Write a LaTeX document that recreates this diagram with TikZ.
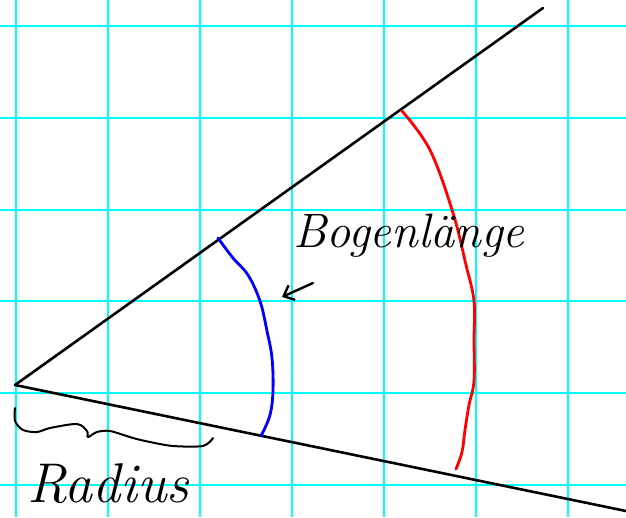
\documentclass[tikz,border=0pt]{standalone}
\usepackage{xcolor}
\usepackage{tikz}
\usetikzlibrary{arrows.meta}
\definecolor{gridcyan}{HTML}{00FFFF}
\definecolor{ink}{HTML}{000000}
\definecolor{arcblue}{HTML}{0000FF}
\definecolor{arcred}{HTML}{FF0000}
\tikzset{
  gridline/.style={draw=gridcyan,line width=2pt},
  leg/.style={draw=ink,line width=2.6pt,line cap=round},
  bluearc/.style={draw=arcblue,line width=2.8pt,line cap=round,line join=round},
  redarc/.style={draw=arcred,line width=2.8pt,line cap=round,line join=round},
  hand/.style={draw=ink,line width=2.4pt,line cap=round,line join=round},
  script/.style={text=ink,font=\itshape,inner sep=0pt},
}

\begin{document}
\begin{tikzpicture}[x=1pt,y=-1pt]
  \useasboundingbox[fill=white] (0,0) rectangle (626,517);
  % squared paper
  \foreach \gx in {16,108,200,292,384,476,568}
    \draw[gridline] (\gx,0) -- (\gx,517);
  \foreach \gy in {26,118,210,301,393,485}
    \draw[gridline] (0,\gy) -- (626,\gy);
  % the two legs of the angle
  \coordinate (apex) at (15,385);
  \coordinate (upper) at (543,8);
  \coordinate (lower) at (626,511);
  \draw[leg] (apex) -- (upper);
  \draw[leg] (apex) -- (lower);
  % arcs
  \draw[bluearc] plot[smooth,tension=0.6] coordinates {(218,238) (233,258) (248,275) (260,301) (267,331) (272,358) (273,390) (270,415) (261,436)};
  \draw[redarc] plot[smooth,tension=0.6] coordinates {(402,111) (430,150) (453,213) (466,265) (474,301) (474,340) (474,381) (469,405) (465,430) (462,452) (456,469)};
  % labels
  \node[script,font=\fontsize{46}{46}\selectfont\itshape,anchor=base west] (arclen) at (293,247) {\scalebox{1.05}{Bogenlänge}};
  \coordinate (arrowtail) at (313,283);
  \coordinate (arrowtip) at (282,297);
  \draw[hand,-{Straight Barb[length=9pt,width=16pt]}] (arrowtail) -- (arrowtip);
  \draw[hand,line width=2pt] plot[smooth,tension=0.5] coordinates {(15,408) (15,421) (23,430) (37,432) (50,428) (77,424) (87,431) (88,437) (97,432) (110,431) (133,438) (150,442) (173,446) (203,446) (213,438)};
  \node[script,font=\fontsize{56}{56}\selectfont\itshape,anchor=base west] (radius) at (27,502) {Radius};
\end{tikzpicture}
\end{document}
